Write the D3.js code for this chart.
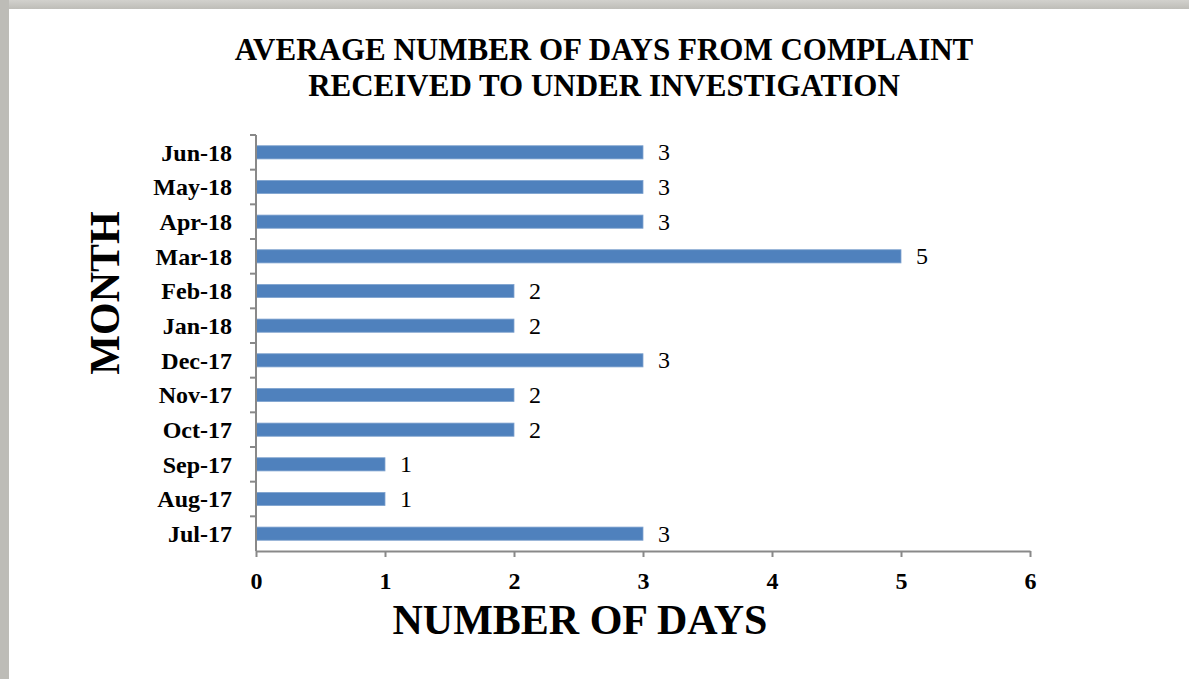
<!DOCTYPE html>
<html>
<head>
<meta charset="utf-8">
<script src="https://cdn.jsdelivr.net/npm/d3@7"></script>
<style>
  html, body { margin: 0; padding: 0; background: #fff; }
  .frame { width: 1189px; height: 679px; position: relative; overflow: hidden; }
  text { font-family: "Liberation Serif", "Times New Roman", serif; fill: #000; }
</style>
</head>
<body>
<div class="frame"></div>
<script>
// Data
const months = ["Jul-17", "Aug-17", "Sep-17", "Oct-17", "Nov-17", "Dec-17",
                "Jan-18", "Feb-18", "Mar-18", "Apr-18", "May-18", "Jun-18"];
const days = [3, 1, 1, 2, 2, 3, 2, 2, 5, 3, 3, 3];
const xTicks = [0, 1, 2, 3, 4, 5, 6];
const titleLines = ["AVERAGE NUMBER OF DAYS FROM COMPLAINT", "RECEIVED TO UNDER INVESTIGATION"];

const W = 1189, H = 679;
const plot = {left: 256, right: 1030, top: 135, bottom: 551};

const svg = d3.select(".frame")
    .append("svg")
        .attr("width", W)
        .attr("height", H);

// grey window frame (top and left)
const grad = svg.append("defs").append("linearGradient")
    .attr("id", "topbar").attr("x1", 0).attr("y1", 0).attr("x2", 0).attr("y2", 1);
grad.append("stop").attr("offset", "0%").attr("stop-color", "#d2d1cd");
grad.append("stop").attr("offset", "100%").attr("stop-color", "#bebdb8");
svg.append("rect").attr("x", 0).attr("y", 0).attr("width", W).attr("height", 9).attr("fill", "url(#topbar)");
svg.append("rect").attr("x", 0).attr("y", 0).attr("width", 9).attr("height", H).attr("fill", "#bdbcb7");

// Title
svg.append("text")
    .attr("text-anchor", "middle")
    .style("font-size", "31px")
    .style("font-weight", "bold")
    .selectAll("tspan")
    .data(titleLines)
    .enter()
    .append("tspan")
        .attr("x", 604)
        .attr("y", (d, i) => 60 + i * 36)
        .text(d => d);

// Scales
const x = d3.scaleLinear()
    .domain([0, 6])
    .range([plot.left, plot.right]);

const y = d3.scaleBand()
    .domain(months)
    .range([plot.bottom, plot.top])
    .paddingInner(0.62)
    .paddingOuter(0.31);

const yEdges = d3.scaleBand().domain(months).range([plot.bottom, plot.top]);

// Bars
svg.selectAll("rect.bar")
    .data(months)
    .enter()
    .append("rect")
        .attr("class", "bar")
        .attr("x", x(0))
        .attr("y", d => y(d))
        .attr("width", (d, i) => x(days[i]) - x(0))
        .attr("height", y.bandwidth())
        .attr("fill", "#4f81bd")
        .attr("stroke", "#7fa3cf")
        .attr("stroke-width", 0.8);

// Value labels
svg.selectAll("text.value")
    .data(months)
    .enter()
    .append("text")
        .attr("class", "value")
        .attr("x", (d, i) => x(days[i]) + 15)
        .attr("y", d => y(d) + y.bandwidth() / 2)
        .attr("dy", "0.34em")
        .style("font-size", "24px")
        .text((d, i) => days[i]);

// X axis
const xAxis = svg.append("g")
    .attr("transform", "translate(0," + plot.bottom + ")")
    .call(d3.axisBottom(x).tickValues(xTicks).tickFormat(d3.format("d"))
        .tickSize(6).tickSizeOuter(0).tickPadding(15));
xAxis.select(".domain").attr("stroke", "#898989").attr("stroke-width", 2);
xAxis.selectAll(".tick line").attr("stroke", "#898989").attr("stroke-width", 2);
xAxis.selectAll("text")
    .style("font-size", "24px")
    .style("font-weight", "bold")
    .style("font-family", "'Liberation Serif', serif");

// Y axis: ticks on band edges
const yAxis = svg.append("g")
    .attr("transform", "translate(" + plot.left + ",0)");
yAxis.append("line")
    .attr("x1", 0).attr("x2", 0)
    .attr("y1", plot.top).attr("y2", plot.bottom)
    .attr("stroke", "#898989").attr("stroke-width", 2);
yAxis.selectAll("line.edge")
    .data(months)
    .enter()
    .append("line")
        .attr("class", "edge")
        .attr("x1", -6).attr("x2", 0)
        .attr("y1", d => yEdges(d))
        .attr("y2", d => yEdges(d))
        .attr("stroke", "#898989").attr("stroke-width", 2);
yAxis.selectAll("text.cat")
    .data(months)
    .enter()
    .append("text")
        .attr("class", "cat")
        .attr("x", -24)
        .attr("y", d => y(d) + y.bandwidth() / 2)
        .attr("dy", "0.35em")
        .attr("text-anchor", "end")
        .style("font-size", "24px")
        .style("font-weight", "bold")
        .text(d => d);

// Axis titles
svg.append("text")
    .attr("text-anchor", "middle")
    .attr("transform", "translate(119,293) rotate(-90)")
    .style("font-size", "42px")
    .style("font-weight", "bold")
    .text("MONTH");

svg.append("text")
    .attr("text-anchor", "middle")
    .attr("x", 580)
    .attr("y", 634)
    .style("font-size", "42px")
    .style("font-weight", "bold")
    .text("NUMBER OF DAYS");
</script>
</body>
</html>
